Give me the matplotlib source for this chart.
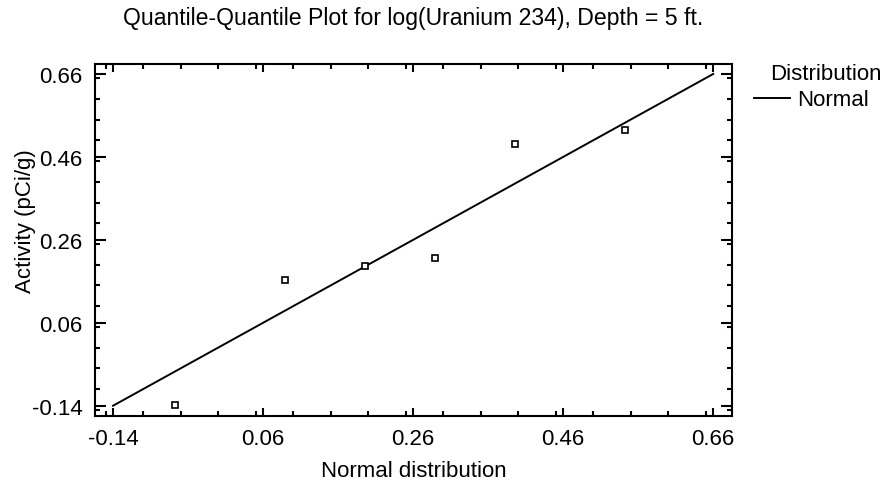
import numpy as np
import matplotlib
matplotlib.use("Agg")
import matplotlib.pyplot as plt
from matplotlib.ticker import MultipleLocator, FormatStrFormatter

plt.rcParams['font.family'] = ['Liberation Sans', 'DejaVu Sans']

# --- data ---
normal_quantiles = [-0.058, 0.089, 0.196, 0.289, 0.396, 0.542]
activity = [-0.139, 0.164, 0.198, 0.217, 0.491, 0.526]
ref_line_x = [-0.14, 0.66]
ref_line_y = [-0.14, 0.66]
tick_values = [-0.14, 0.06, 0.26, 0.46, 0.66]

FS = 16

fig = plt.figure(figsize=(8.93, 4.89), dpi=100)
ax = fig.add_axes([95 / 893, 1 - 416.7 / 489, (732 - 95) / 893, (416.7 - 65) / 489])

ax.plot(ref_line_x, ref_line_y, color='black', linewidth=1.4, label='Normal')
ax.plot(normal_quantiles, activity, linestyle='none', marker='s', markersize=4,
        markerfacecolor='white', markeredgecolor='black', markeredgewidth=1.2)

ax.set_xlim(-0.164, 0.685)
ax.set_ylim(-0.164, 0.684)
ax.set_xticks(tick_values)
ax.set_yticks(tick_values)
ax.xaxis.set_minor_locator(MultipleLocator(0.05))
ax.yaxis.set_minor_locator(MultipleLocator(0.05))
ax.xaxis.set_major_formatter(FormatStrFormatter('%.2f'))
ax.yaxis.set_major_formatter(FormatStrFormatter('%.2f'))

ax.tick_params(which='both', direction='in', top=True, right=True, width=1.5, labelsize=FS)
ax.tick_params(axis='x', which='major', length=5.5, pad=9)
ax.tick_params(axis='y', which='major', length=8, pad=9)
ax.tick_params(which='minor', length=3.5)
for s in ax.spines.values():
    s.set_linewidth(1.5)

ax.set_xlabel('Normal distribution', fontsize=FS)
ax.xaxis.set_label_coords(0.5, -0.125)
ax.set_ylabel('Activity (pCi/g)', fontsize=FS)
ax.yaxis.set_label_coords(-0.092, 0.556)

ax.set_title('Quantile-Quantile Plot for log(Uranium 234), Depth = 5 ft.',
             fontsize=16.6, pad=29)

# legend: entry line + label, heading drawn as figure text
ax.legend(loc='center left', bbox_to_anchor=(754 / 893, 1 - 101 / 489),
          bbox_transform=fig.transFigure, frameon=False, fontsize=FS,
          handlelength=1.6, handletextpad=0.35, borderpad=0, borderaxespad=0)
fig.text(826 / 893, 1 - 75 / 489, 'Distribution', fontsize=FS, ha='center', va='center')

fig.savefig('out.png', dpi=100)
